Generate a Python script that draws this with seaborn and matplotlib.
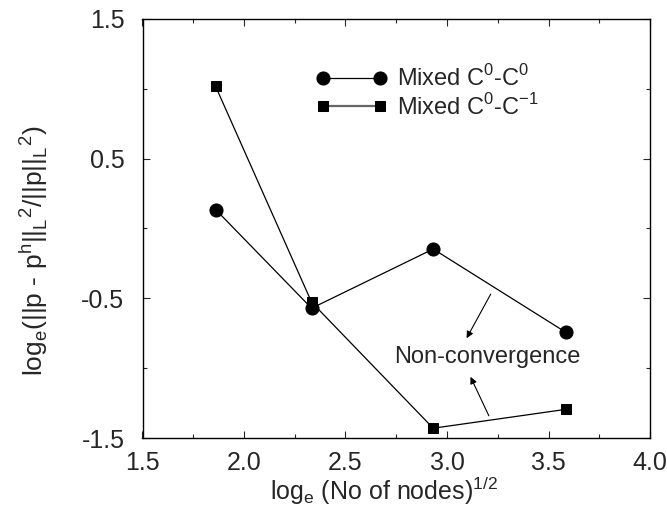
import matplotlib
matplotlib.use("Agg")
import matplotlib.pyplot as plt
import seaborn as sns
import pandas as pd
from matplotlib.ticker import MultipleLocator, FixedLocator

x_vals = [1.86, 2.333, 2.932, 3.585]
c0c0 = [0.136, -0.571, -0.147, -0.743]
c0cm1 = [1.018, -0.528, -1.430, -1.295]
label_c0c0 = r'Mixed C$^\mathregular{0}$-C$^\mathregular{0}$'
label_c0cm1 = r'Mixed C$^\mathregular{0}$-C$^\mathregular{-1}$'
x_ticks = [1.5, 2.0, 2.5, 3.0, 3.5, 4.0]
y_ticks = [1.5, 0.5, -0.5, -1.5]

sns.set_style("ticks")
plt.rcParams['font.family'] = ['Liberation Sans', 'DejaVu Sans']
plt.rcParams['mathtext.fontset'] = 'custom'
plt.rcParams['mathtext.rm'] = 'Liberation Sans'

df1 = pd.DataFrame({'x': x_vals, 'y': c0c0})
df2 = pd.DataFrame({'x': x_vals, 'y': c0cm1})

fig = plt.figure(figsize=(6.67, 5.18), dpi=100)
ax = fig.add_axes([142.5 / 667, 1 - 438 / 518, 507.5 / 667, 419 / 518])

sns.lineplot(data=df1, x='x', y='y', ax=ax, color='black', lw=0.9,
             marker='o', markersize=9.4, markeredgecolor='black',
             markerfacecolor='black', label=label_c0c0)
sns.lineplot(data=df2, x='x', y='y', ax=ax, color='black', lw=0.9,
             marker='s', markersize=7.8, markeredgecolor='black',
             markerfacecolor='black', label=label_c0cm1)

ax.set_xlim(1.5, 4.0)
ax.set_ylim(-1.5, 1.5)
ax.xaxis.set_major_locator(FixedLocator(x_ticks))
ax.xaxis.set_minor_locator(MultipleLocator(0.25))
ax.yaxis.set_major_locator(FixedLocator(y_ticks))
ax.yaxis.set_minor_locator(FixedLocator([1.0, 0.0, -1.0]))
ax.set_xticklabels([f'{v:.1f}' for v in x_ticks])
ax.set_yticklabels([f'{v:.1f}' for v in y_ticks])
ax.tick_params(which='both', direction='in', top=True, right=True, labelsize=18, width=0.8)
ax.tick_params(which='major', length=5)
ax.tick_params(which='minor', length=3)
ax.tick_params(axis='x', which='major', pad=9)
ax.tick_params(axis='y', which='major', pad=13)
for s in ax.spines.values():
    s.set_linewidth(1.0)
    s.set_color('black')

ax.set_xlabel(r'log$_\mathregular{e}$ (No of nodes)$^\mathregular{1/2}$', fontsize=18)
ax.set_ylabel(r'log$_\mathregular{e}$(||p - p$^\mathregular{h}$||$_\mathregular{L}$$^\mathregular{2}$/||p||$_\mathregular{L}$$^\mathregular{2}$)',
              fontsize=19)
ax.xaxis.set_label_coords(0.477, -0.088)
ax.yaxis.set_label_coords(-0.182, 0.446)

leg = ax.legend(loc='upper left', bbox_to_anchor=(0.324, 0.912), frameon=False,
                fontsize=17, numpoints=2, handlelength=3.0, handletextpad=0.4,
                labelspacing=0.1, borderaxespad=0)
hs = leg.legend_handles
hs[1].set_color('#666666')
hs[1].set_linewidth(1.6)
hs[1].set_markerfacecolor('black')
hs[1].set_markeredgecolor('black')

ax.text(3.197, -0.963, 'Non-convergence', fontsize=17, ha='center', va='baseline')
ax.annotate('', xy=(3.090, -0.803), xytext=(3.222, -0.452),
            arrowprops=dict(arrowstyle='-|>', color='black', lw=0.8, mutation_scale=10))
ax.annotate('', xy=(3.110, -1.044), xytext=(3.212, -1.359),
            arrowprops=dict(arrowstyle='-|>', color='black', lw=0.8, mutation_scale=10))

fig.savefig('out.png', dpi=100)
